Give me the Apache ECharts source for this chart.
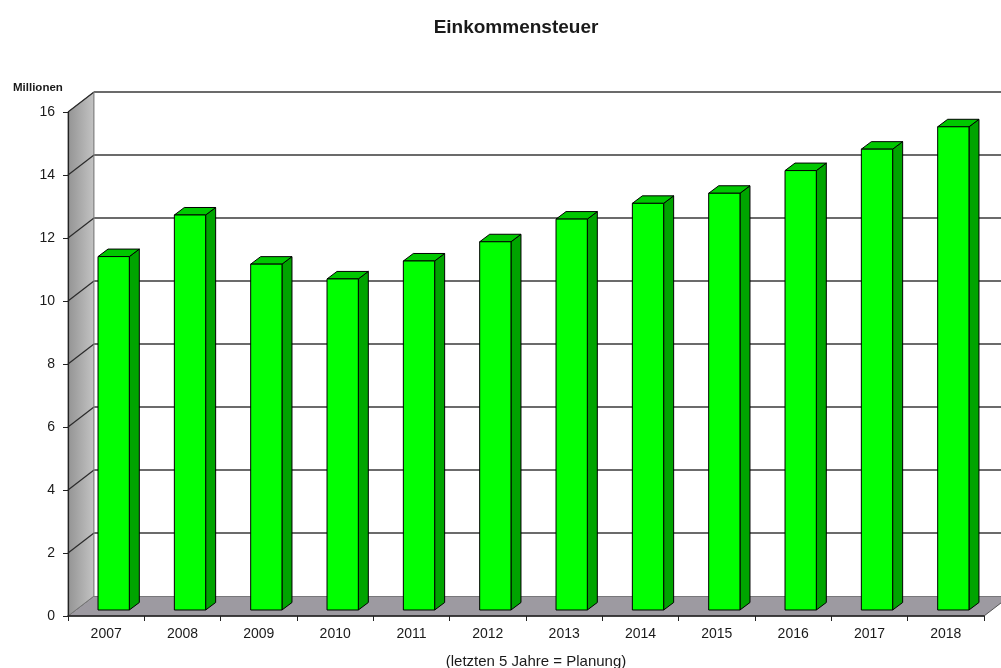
<!DOCTYPE html>
<html>
<head>
<meta charset="utf-8">
<script src="https://cdn.jsdelivr.net/npm/echarts@6/dist/echarts.min.js"></script>
<style>
  html, body { margin: 0; padding: 0; background: #ffffff; }
  #chart { width: 1001px; height: 668px; }
</style>
</head>
<body>
<div id="chart"></div>
<script>
// Einkommensteuer in Millionen, 2007–2018 (last five years are planned figures)
const years = ['2007', '2008', '2009', '2010', '2011', '2012', '2013', '2014', '2015', '2016', '2017', '2018'];
const revenue = [11.22, 12.54, 10.98, 10.51, 11.08, 11.69, 12.41, 12.91, 13.23, 13.95, 14.63, 15.34];
const yMin = 0;
const yMax = 16;
const yStep = 2;
const yTickValues = [0, 2, 4, 6, 8, 10, 12, 14, 16];

// pseudo-3D geometry (pixels)
const WALL_DX = 26, WALL_DY = -20;   // back wall offset from the front plane
const BAR_OX = 7.5, BAR_OY = -6;     // bar front face offset from the front plane
const BAR_DX = 10, BAR_DY = -7.5;    // bar depth
const BAR_FRAC = 0.41;               // bar width as a share of the category band

const FONT = '"Liberation Sans", Arial, sans-serif';

function renderBackdrop(params, api) {
  const bw = api.size([1, 0])[0];
  const first = api.coord([0, yMin]);
  const last = api.coord([years.length - 1, yMin]);
  const xL = first[0] - bw / 2;
  const xR = last[0] + bw / 2;
  const y0 = first[1];
  const yTop = api.coord([0, yMax])[1];
  const children = [];

  // floor
  children.push({
    type: 'polygon',
    shape: { points: [[xL, y0], [xR, y0], [xR + WALL_DX, y0 + WALL_DY], [xL + WALL_DX, y0 + WALL_DY]] },
    style: { fill: '#9d9aa1', stroke: '#555', lineWidth: 1 }
  });
  // left side wall
  children.push({
    type: 'polygon',
    shape: { points: [[xL, yTop], [xL, y0], [xL + WALL_DX, y0 + WALL_DY], [xL + WALL_DX, yTop + WALL_DY]] },
    style: {
      fill: new echarts.graphic.LinearGradient(0, 0, 1, 0, [
        { offset: 0, color: '#939393' },
        { offset: 1, color: '#c4c4c4' }
      ]),
      stroke: '#777', lineWidth: 1
    }
  });
  // back wall
  children.push({
    type: 'rect',
    shape: { x: xL + WALL_DX, y: yTop + WALL_DY, width: xR - xL + 40, height: y0 - yTop },
    style: { fill: '#ffffff', stroke: null }
  });
  // grid lines on back wall and left wall
  yTickValues.forEach(function (v) {
    const y = api.coord([0, v])[1];
    if (v > yMin) {
      children.push({
        type: 'line',
        shape: { x1: xL + WALL_DX, y1: y + WALL_DY, x2: xR + WALL_DX + 40, y2: y + WALL_DY },
        style: { stroke: '#3a3a3a', lineWidth: 1.5 }
      });
      children.push({
        type: 'line',
        shape: { x1: xL, y1: y, x2: xL + WALL_DX, y2: y + WALL_DY },
        style: { stroke: '#2a2a2a', lineWidth: 1.2 }
      });
    }
  });
  children.push({
    type: 'line',
    shape: { x1: xL + WALL_DX, y1: y0 + WALL_DY, x2: xL + WALL_DX, y2: yTop + WALL_DY },
    style: { stroke: '#888', lineWidth: 1 }
  });
  return { type: 'group', children: children };
}

function renderBar(params, api) {
  const i = api.value(0);
  const v = api.value(1);
  const base = api.coord([i, yMin]);
  const top = api.coord([i, v]);
  const w = api.size([1, 0])[0] * BAR_FRAC;
  const x0 = base[0] + BAR_OX - w / 2;
  const x1 = x0 + w;
  const yb = base[1] + BAR_OY;
  const yt = top[1] + BAR_OY;
  return {
    type: 'group',
    children: [
      {
        type: 'polygon',
        shape: { points: [[x1, yt], [x1 + BAR_DX, yt + BAR_DY], [x1 + BAR_DX, yb + BAR_DY], [x1, yb]] },
        style: { fill: '#00a400', stroke: '#000', lineWidth: 1 }
      },
      {
        type: 'polygon',
        shape: { points: [[x0, yt], [x0 + BAR_DX, yt + BAR_DY], [x1 + BAR_DX, yt + BAR_DY], [x1, yt]] },
        style: { fill: '#00c800', stroke: '#000', lineWidth: 1 }
      },
      {
        type: 'rect',
        shape: { x: x0, y: yt, width: w, height: yb - yt },
        style: { fill: '#00ff00', stroke: '#000', lineWidth: 1 }
      }
    ]
  };
}

const chart = echarts.init(document.getElementById('chart'), null, { renderer: 'canvas' });
chart.setOption({
  animation: false,
  backgroundColor: '#ffffff',
  title: [
    {
      text: 'Einkommensteuer',
      left: 511, top: 13, textAlign: 'center',
      textStyle: { fontFamily: FONT, fontSize: 19, fontWeight: 'bold', color: '#1a1a1a' }
    },
    {
      text: 'Millionen',
      left: 8, top: 77,
      textStyle: { fontFamily: FONT, fontSize: 11.5, fontWeight: 'bold', color: '#1a1a1a' }
    },
    {
      text: '(letzten 5 Jahre = Planung)',
      left: 531, top: 649, textAlign: 'center',
      textStyle: { fontFamily: FONT, fontSize: 15, fontWeight: 'normal', color: '#1a1a1a' }
    }
  ],
  grid: { left: 68, right: 17, top: 112, bottom: 52, containLabel: false },
  xAxis: {
    type: 'category',
    data: years,
    boundaryGap: true,
    axisLine: { show: true, lineStyle: { color: '#222', width: 1.5 } },
    axisTick: { show: true, length: 5, lineStyle: { color: '#222' } },
    axisLabel: { fontFamily: FONT, fontSize: 14, color: '#1a1a1a', margin: 11 },
    splitLine: { show: false },
    z: 10
  },
  yAxis: {
    type: 'value',
    min: yMin, max: yMax, interval: yStep,
    axisLine: { show: true, lineStyle: { color: '#222', width: 1.2 } },
    axisTick: { show: true, length: 5, lineStyle: { color: '#222' } },
    axisLabel: { fontFamily: FONT, fontSize: 14, color: '#1a1a1a', margin: 13 },
    splitLine: { show: false },
    z: 10
  },
  series: [
    {
      type: 'custom',
      name: 'backdrop',
      renderItem: renderBackdrop,
      data: [[0, 0]],
      silent: true,
      clip: false,
      z: 1
    },
    {
      type: 'custom',
      name: 'Einkommensteuer',
      renderItem: renderBar,
      data: revenue.map(function (v, i) { return [i, v]; }),
      clip: false,
      z: 5
    }
  ]
});
</script>
</body>
</html>
